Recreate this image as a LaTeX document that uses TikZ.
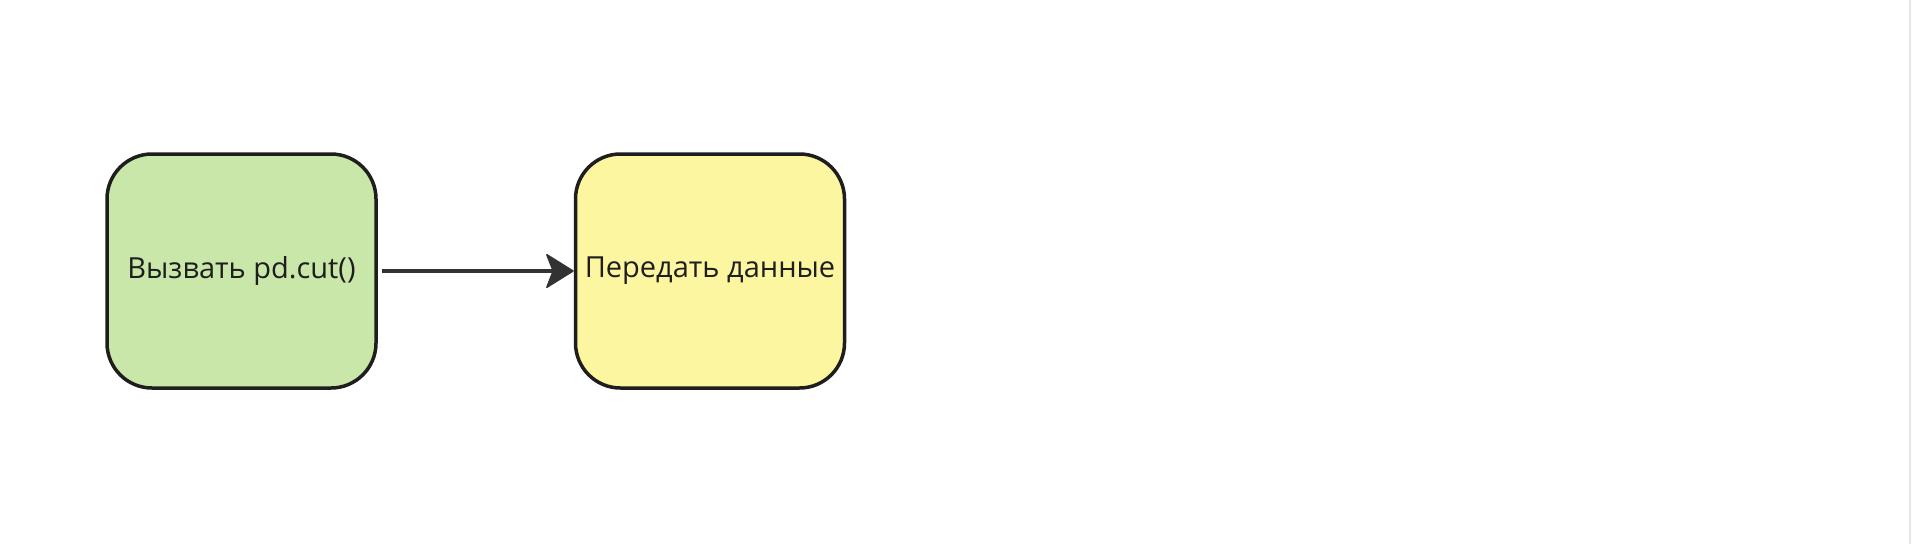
\documentclass[tikz,border=0pt]{standalone}
\usepackage{fontspec}
\setmainfont{Open Sans}
\usetikzlibrary{arrows.meta}
\definecolor{boxgreen}{RGB}{201,231,169}
\definecolor{boxyellow}{RGB}{253,246,160}
\definecolor{edge}{RGB}{30,30,30}
\definecolor{arrowc}{RGB}{50,50,50}
\tikzset{
  stepbox/.style={draw=edge, line width=3.5pt, rounded corners=45pt,
    minimum width=269pt, minimum height=234pt, inner sep=0pt,
    font=\fontsize{29}{34}\selectfont, text=edge},
  flow/.style={draw=arrowc, line width=3.5pt,
    -{Stealth[length=29pt,width=36pt,inset=7pt,line width=1.5pt,round,fill=arrowc]}}
}
\begin{document}
\begin{tikzpicture}[x=1pt,y=-1pt]
\useasboundingbox (0,0) rectangle (1912,544);
\fill[white] (0,0) rectangle (1912,544);
\draw[white!90!black, line width=2pt] (1910,0) -- (1910,544);
\node[stepbox, fill=boxgreen] (a) at (241.5,271) {Вызвать pd.cut()};
\node[stepbox, fill=boxyellow] (b) at (710,271) {Передать данные};
\draw[flow] ([xshift=4pt]a.east) -- (b.west);
\end{tikzpicture}
\end{document}
